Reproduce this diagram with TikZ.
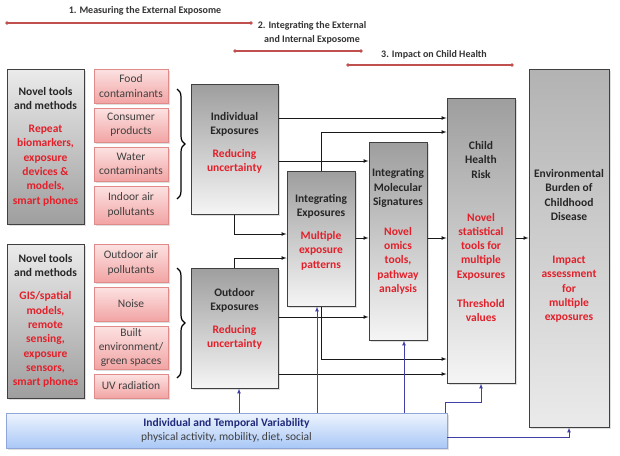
\documentclass[tikz,border=0pt]{standalone}
\usepackage{fontspec}
\setmainfont{Carlito}
\usetikzlibrary{calc,shadows,decorations.pathreplacing}

\definecolor{txtred}{HTML}{E3202A}
\definecolor{tlred}{HTML}{C0504D}
\definecolor{pinktop}{HTML}{FCE2E2}
\definecolor{pinkbot}{HTML}{F2A4A4}
\definecolor{pinkline}{HTML}{E08A8A}
\definecolor{bluetop}{HTML}{EEF4FE}
\definecolor{bluebot}{HTML}{A9C8F6}
\definecolor{blueline}{HTML}{8EA6D8}
\definecolor{bluecon}{HTML}{3F3FA6}
\definecolor{bluetxt}{HTML}{1F2A7C}

\begin{document}
\begin{tikzpicture}[x=1pt,y=-1pt,
  every node/.style={font=\fontsize{11.5}{14.3}\selectfont,align=center,inner sep=0pt},
  shade/.style={drop shadow={opacity=0.25,shadow xshift=1.5pt,shadow yshift=-1.5pt}},
  proc/.style={draw=black!75,line width=1pt,top color=black!38,bottom color=black!4,shade},
  tool/.style={draw=black!75,line width=1pt,top color=black!8,bottom color=black!38,shade,
    font=\fontsize{11.5}{14.3}\selectfont\bfseries,text=black!85},
  src/.style={draw=pinkline,line width=0.8pt,top color=pinktop,bottom color=pinkbot,
    minimum width=74pt,text=black!75,shade},
  lbl/.style={font=\fontsize{11.5}{14.3}\selectfont\bfseries,text=black!85},
  phase/.style={font=\fontsize{10}{14}\selectfont\bfseries,text=black!80},
  arr/.style={-latex,black!90,line width=0.7pt},
  varr/.style={-latex,bluecon,line width=0.7pt},
  tl/.style={tlred,line width=1.1pt},
  brc/.style={decorate,decoration={brace,amplitude=8pt},black,line width=1.2pt}]

  \useasboundingbox (0,0) rectangle (620,455);

  \coordinate (m1a) at (7,23);
  \coordinate (m1b) at (251,23);
  \coordinate (m2a) at (235,51);
  \coordinate (m2b) at (361,51);
  \coordinate (m3a) at (348,65);
  \coordinate (m3b) at (512,65);

  \draw[tl] (m1a) -- (m1b);
  \draw[tl] (m2a) -- (m2b);
  \draw[tl] (m3a) -- (m3b);
  \foreach \p in {m1a,m1b,m2a,m2b,m3a,m3b}
    \path[fill=tlred] (\p) circle [radius=1.8pt];
  \node[phase] (m1) at (145,11) {1. Measuring the External Exposome};
  \node[phase] (m2) at (312,33) {2. Integrating the External\\ and Internal Exposome};
  \node[phase] (m3) at (434,54.5) {3. Impact on Child Health};

  \node[tool,minimum width=77pt,minimum height=155pt] (tools1) at (45.5,146.5)
    {Novel tools\\and methods\\[8.7pt]\color{txtred}Repeat\\\color{txtred}biomarkers,\\\color{txtred}exposure\\\color{txtred}devices \&\\\color{txtred}models,\\\color{txtred}smart phones};
  \node[tool,minimum width=77pt,minimum height=154pt] (tools2) at (45.5,321)
    {Novel tools\\and methods\\[8.7pt]\color{txtred}GIS/spatial\\\color{txtred}models,\\\color{txtred}remote\\\color{txtred}sensing,\\\color{txtred}exposure\\\color{txtred}sensors,\\\color{txtred}smart phones};

  \node[src,minimum height=34pt] (food) at (131,86) {Food\\contaminants};
  \node[src,minimum height=34pt] (cons) at (131,125) {Consumer\\products};
  \node[src,minimum height=34pt] (water) at (131,164) {Water\\contaminants};
  \node[src,minimum height=38pt] (indoor) at (131,205) {Indoor air\\pollutants};
  \node[src,minimum height=38pt] (outair) at (131,263) {Outdoor air\\pollutants};
  \node[src,minimum height=34pt] (noise) at (131,304) {Noise};
  \node[src,minimum height=43pt] (built) at (131,347.5) {Built\\environment/\\green spaces};
  \node[src,minimum height=24pt] (uv) at (131,386) {UV radiation};

  \draw[brc] (177,89) -- (177,199);
  \draw[brc] (177,268) -- (177,378);

  \node[proc,minimum width=87pt,minimum height=130pt] (indiv) at (234.5,149) {};
  \node[proc,minimum width=87pt,minimum height=120pt] (outdoor) at (234.5,328) {};
  \node[proc,minimum width=68pt,minimum height=135pt] (intexp) at (321,238.5) {};
  \node[proc,minimum width=58pt,minimum height=198pt] (intmol) at (398,241) {};
  \node[proc,minimum width=68pt,minimum height=285pt] (child) at (481,240.5) {};
  \node[proc,minimum width=80pt,minimum height=358pt,top color=black!30,bottom color=black!8] (burden) at (569,248) {};

  \node[lbl] (indiv-t) at (234.5,143) {Individual\\Exposures\\[8.7pt]\color{txtred}Reducing\\\color{txtred}uncertainty};
  \node[lbl] (outdoor-t) at (234.5,319) {Outdoor\\Exposures\\[8pt]\color{txtred}Reducing\\\color{txtred}uncertainty};
  \node[lbl] (intexp-t) at (321,232) {Integrating\\Exposures\\[8.7pt]\color{txtred}Multiple\\\color{txtred}exposure\\\color{txtred}patterns};
  \node[lbl] (intmol-t) at (398,231.5) {Integrating\\Molecular\\Signatures\\[15.7pt]\color{txtred}Novel\\\color{txtred}omics\\\color{txtred}tools,\\\color{txtred}pathway\\\color{txtred}analysis};
  \node[lbl] (child-t) at (481,231.5) {Child\\Health\\Risk\\[28.7pt]\color{txtred}Novel\\\color{txtred}statistical\\\color{txtred}tools for\\\color{txtred}multiple\\\color{txtred}Exposures\\[14.7pt]\color{txtred}Threshold\\\color{txtred}values};
  \node[lbl] (burden-t) at (569,246) {Environmental\\Burden of\\Childhood\\Disease\\[28.7pt]\color{txtred}Impact\\\color{txtred}assessment\\\color{txtred}for\\\color{txtred}multiple\\\color{txtred}exposures};

  \node[draw=blueline,line width=0.8pt,top color=bluetop,bottom color=bluebot,shade,
    minimum width=441pt,minimum height=35pt] (var) at (226.5,430.5)
    {{\bfseries\color{bluetxt}Individual and Temporal Variability}\\\color{black!75}physical activity, mobility, diet, social};

  \draw[arr] (indiv.east |- 0,118) -- (child.west |- 0,118);
  \draw[arr] (indiv.east |- 0,161) -- (intmol.west |- 0,161);
  \draw[arr] (indiv.south) |- (intexp.west |- 0,234);
  \draw[arr] (intexp.north) |- (child.west |- 0,132);
  \draw[arr] (outdoor.north) |- (intexp.west |- 0,258);
  \draw[arr] (outdoor.east |- 0,317) -- (intmol.west |- 0,317);
  \draw[arr] (outdoor.east |- 0,374) -- (child.west |- 0,374);
  \draw[arr] (intexp.south) |- (child.west |- 0,359);
  \draw[arr] (intexp.east |- 0,238) -- (intmol.west |- 0,238);
  \draw[arr] (intmol.east |- 0,238) -- (child.west |- 0,238);
  \draw[arr] (child.east |- 0,238) -- (burden.west |- 0,238);

  \draw[varr] (var.north -| 239,0) -- (outdoor.south -| 239,0);
  \draw[varr] (var.north -| 317,0) -- (intexp.south -| 317,0);
  \draw[varr] (var.north -| 404,0) -- (intmol.south -| 404,0);
  \draw[varr] ([xshift=-2pt]var.north east) -- ++(0,-10) -| (child.south);
  \draw[varr] (var.east |- 0,437) -| (burden.south);
\end{tikzpicture}
\end{document}
